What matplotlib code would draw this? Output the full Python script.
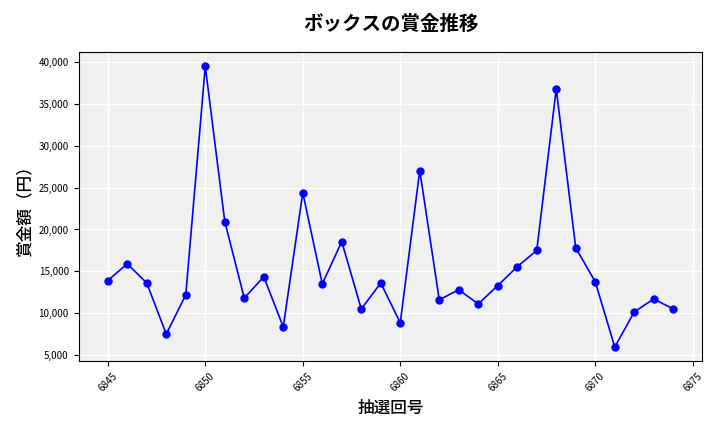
import matplotlib.pyplot as plt
from matplotlib.ticker import FuncFormatter

plt.rcParams['font.family'] = ['Noto Sans CJK JP', 'DejaVu Sans']

draws = list(range(6845, 6875))
prizes = [13900, 15900, 13600, 7500, 12200, 39500, 20950, 11800, 14350, 8350,
          24400, 13500, 18550, 10500, 13600, 8850, 27050, 11600, 12800, 11100,
          13300, 15550, 17500, 36800, 17800, 13750, 5950, 10150, 11700, 10500]

fig, ax = plt.subplots(figsize=(7.2, 4.32), dpi=100)
ax.set_facecolor('#f0f0f0')
ax.plot(draws, prizes, color='blue', marker='o', markersize=5, linewidth=1.2)
ax.grid(True, color='white', linewidth=1)
ax.set_axisbelow(True)

ax.set_title('ボックスの賞金推移', fontsize=14, fontweight='bold', pad=16)
ax.set_xlabel('抽選回号', fontsize=12, fontweight='medium')
ax.set_ylabel('賞金額（円）', fontsize=12, fontweight='medium')
ax.yaxis.set_major_formatter(FuncFormatter(lambda v, p: f'{int(v):,}'))
ax.set_xticks(range(6845, 6876, 5))
ax.set_xlim(6843.5, 6875.5)
ax.tick_params(axis='x', labelrotation=45, labelsize=7)
ax.tick_params(axis='y', labelsize=7)

fig.tight_layout()
plt.savefig('out.png')
plt.close(fig)
